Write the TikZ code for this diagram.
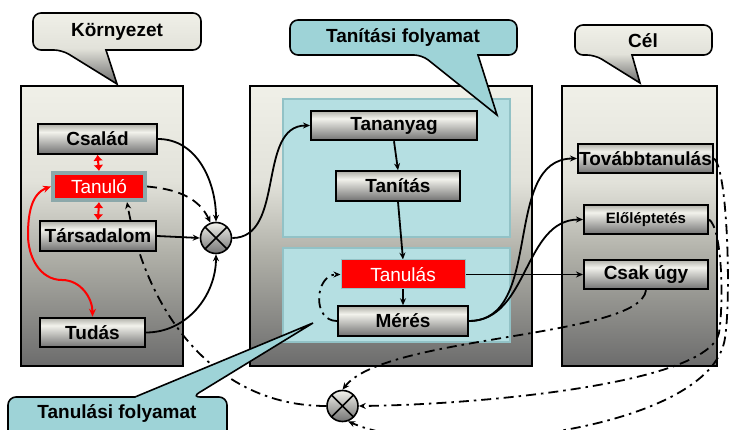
\documentclass[tikz,border=0pt]{standalone}
\usepackage{fontspec}
\setmainfont{Liberation Sans}
\usetikzlibrary{positioning,arrows.meta,calc}
\definecolor{panelwhite}{HTML}{F0F0E8}
\definecolor{panellight}{HTML}{E2E2DA}
\definecolor{panelmid}{HTML}{B0B0A8}
\definecolor{paneldark}{HTML}{6C6C6C}
\definecolor{boxtop}{HTML}{B0B0A8}
\definecolor{boxlight}{HTML}{F2F2EC}
\definecolor{boxdark}{HTML}{727272}
\definecolor{tealfill}{HTML}{9ED3D7}
\definecolor{tealpanel}{HTML}{B5DFE2}
\definecolor{tealedge}{HTML}{92C2C6}
\definecolor{tanframe}{HTML}{8CA8AA}

\pgfdeclareverticalshading{panelshade}{100bp}{color(0bp)=(paneldark); color(25bp)=(paneldark); color(45bp)=(panelmid); color(58bp)=(panellight); color(75bp)=(panelwhite); color(100bp)=(panelwhite)}
\pgfdeclareverticalshading{boxshade}{100bp}{color(0bp)=(boxdark); color(25bp)=(boxdark); color(62bp)=(boxlight); color(75bp)=(boxtop); color(100bp)=(boxtop)}
\pgfdeclareverticalshading{callshade}{100bp}{color(0bp)=(paneldark); color(25bp)=(paneldark); color(50bp)=(panellight); color(75bp)=(panelwhite); color(100bp)=(panelwhite)}
\pgfdeclareverticalshading{ballshade}{100bp}{color(0bp)=(boxdark); color(25bp)=(boxdark); color(75bp)=(boxlight); color(100bp)=(boxlight)}

\pgfdeclarelayer{bg}
\pgfdeclarelayer{conn}
\pgfsetlayers{bg,conn,main}

\newcommand{\boxfont}{\fontsize{19pt}{22pt}\selectfont\bfseries}

\tikzset{
  panel/.style={draw=black, line width=2pt, shade, shading=panelshade},
  tealbox/.style={draw=tealedge, line width=1.2pt, fill=tealpanel},
  graybox/.style={draw=black, line width=2pt, shade, shading=boxshade,
    minimum height=29.5pt, inner sep=0pt, font=\boxfont},
  redbox/.style={fill=red, text=white, inner sep=0pt,
    font=\fontsize{19pt}{22pt}\selectfont},
  combiner/.style={circle, draw=black, line width=1.6pt, shade, shading=ballshade,
    minimum size=31pt, inner sep=0pt,
    path picture={\draw[line width=1.6pt]
      (path picture bounding box.north west) -- (path picture bounding box.south east)
      (path picture bounding box.north east) -- (path picture bounding box.south west);}},
  callout/.style={draw=black, line width=1.6pt},
  graycall/.style={callout, shade, shading=callshade},
  tealcall/.style={callout, fill=tealfill},
  conn/.style={line width=1.8pt, -{Stealth[length=7pt,width=6pt]}},
  feedback/.style={conn, dash pattern=on 10pt off 5pt on 2.5pt off 5pt},
  redarr/.style={red, line width=2pt, {Latex[length=6pt,width=10pt]}-{Latex[length=6pt,width=10pt]}},
  redcurve/.style={red, line width=2pt, {Stealth[length=8pt,width=7pt]}-{Stealth[length=8pt,width=7pt]}}
}

\begin{document}
\begin{tikzpicture}[x=1pt,y=-1pt]
  \useasboundingbox (0,0) rectangle (729,430);

  % panels
  \begin{pgfonlayer}{bg}
    \foreach \l/\r in {21/183,250/532,562/717} {
      \draw[panel] (\l,86) rectangle (\r,366);
    }
    \foreach \t/\b in {99/237,248/342} {
      \draw[tealbox] (283,\t) rectangle (510,\b);
    }
  \end{pgfonlayer}

  % callouts
  \draw[graycall] (62,50) -- (117,84) -- (106,50) [rounded corners=8pt]
    -- (201,50) -- (201,13) -- (33,13) -- (33,50) -- cycle;
  \node[font=\boxfont] (kornyezet) at (117,32) {Környezet};
  \draw[tealcall] (422,55) -- (497,115) -- (478,55) [rounded corners=8pt]
    -- (517,55) -- (517,20) -- (290,20) -- (290,55) -- cycle;
  \node[font=\boxfont] (tanitasi) at (403,38) {Tanítási folyamat};
  \draw[graycall] (595,55) -- (640,83) -- (632,55) [rounded corners=8pt]
    -- (712,55) -- (712,25) -- (575,25) -- (575,55) -- cycle;
  \node[font=\boxfont] (cel) at (643,41) {Cél};
  \draw[tealcall] (192,397) -- (313,323) -- (135,397) [rounded corners=8pt]
    -- (8,397) -- (8,445) -- (227,445) -- (227,397) -- cycle;
  \node[font=\boxfont] (tanulasi) at (117,414) {Tanulási folyamat};

  % boxes
  \foreach \name/\x/\y/\bw/\txt in {csalad/97.5/139/119/Család,
      tarsadalom/98/236/116/Társadalom, tudas/92.5/332.5/105/Tudás,
      tananyag/394/125.5/166/Tananyag, tanitas/398/186/124/Tanítás,
      meres/403/321/130/Mérés, tovabb/645.5/158.5/135/Továbbtanulás,
      csakugy/646/274.5/124/Csak úgy} {
    \node[graybox, minimum width=\bw pt] (\name) at (\x,\y) {\txt};
  }
  \node[graybox, minimum width=124pt, font=\fontsize{15pt}{18pt}\selectfont\bfseries]
    (elo) at (646,219.5) {Előléptetés};
  \node[redbox, draw=tanframe, line width=4pt, minimum width=92pt, minimum height=27pt]
    (tanulo) at (99,186.5) {Tanuló};
  \node[redbox, draw=tealedge, line width=1pt, minimum width=124pt, minimum height=29pt]
    (tanulas) at (403,274.5) {Tanulás};
  \node[combiner] (comb1) at (216,238) {};
  \node[combiner] (comb2) at (342.5,406) {};

  \coordinate (redbend1) at (28,235);
  \coordinate (redbend2) at (62,280);
  \coordinate (elobend) at (719,333);
  \coordinate (tovabbbend) at (725,338);

  % connectors
  \begin{pgfonlayer}{conn}
    \draw[conn] (csalad.east) to[out=0,in=90] (comb1.north);
    \draw[conn, dash pattern=on 10pt off 6pt] (tanulo.east) to[out=-5,in=115] (comb1.110);
    \draw[conn] (tarsadalom.east) -- (comb1.west);
    \draw[conn] (tudas.east) to[out=0,in=-90] (comb1.south);
    \draw[conn] (comb1.east) to[out=0,in=180] (tananyag.west);
    \draw[conn] (tananyag.south) -- (tanitas.north);
    \draw[conn] (tanitas.south) -- (tanulas.north);
    \draw[conn] (tanulas.south) -- (meres.north);
    \draw[conn] (tanulas.east) -- (csakugy.west);
    \draw[conn] (meres.east) to[out=0,in=180] (tovabb.west);
    \draw[conn] (meres.east) to[out=0,in=180] (elo.west);
    \draw[feedback] (meres.west) to[out=180,in=180,looseness=1.4] (tanulas.west);

    \draw[redarr] (csalad.south) -- (tanulo.north);
    \draw[redarr] (tanulo.south) -- (tarsadalom.north);
    \draw[redcurve] (tanulo.west) to[out=200,in=90] (redbend1)
      to[out=-90,in=180] (redbend2) to[out=0,in=90] (tudas.north);

    \draw[feedback] (comb2.west) to[out=180,in=-80] ([xshift=28pt]tanulo.south);
    \draw[feedback] (csakugy.south) .. controls (640,338) and (385,335) .. (comb2.north);
    \draw[feedback] (elo.east) .. controls (722,228) and (724,300) .. (elobend)
      .. controls (708,385) and (470,405) .. (comb2.east);
    \draw[feedback] (tovabb.east) .. controls (728,170) and (731,300) .. (tovabbbend)
      .. controls (712,430) and (440,462) .. (comb2.-70);
  \end{pgfonlayer}
\end{tikzpicture}
\end{document}
